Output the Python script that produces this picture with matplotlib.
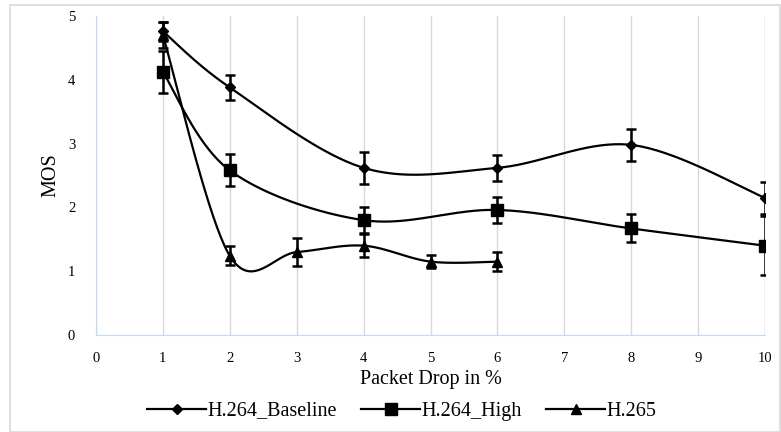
import numpy as np
import matplotlib
matplotlib.use("Agg")
import matplotlib.pyplot as plt
from matplotlib.patches import Rectangle

# data
x_base = [1, 2, 4, 6, 8, 10]
mos_base = [4.76, 3.88, 2.62, 2.62, 2.98, 2.15]
err_base = [0.15, 0.20, 0.25, 0.20, 0.25, 0.25]

x_high = [1, 2, 4, 6, 8, 10]
mos_high = [4.12, 2.58, 1.80, 1.96, 1.67, 1.40]
err_high = [0.33, 0.25, 0.20, 0.20, 0.22, 0.46]

x_265 = [1, 2, 3, 4, 5, 6]
mos_265 = [4.70, 1.24, 1.30, 1.40, 1.15, 1.15]
err_265 = [0.20, 0.15, 0.22, 0.18, 0.10, 0.15]

x_ticks = list(range(0, 11))
y_ticks = [0, 1, 2, 3, 4, 5]


def smooth(xs, ys, n=40):
    # Excel-like smoothed line (Catmull-Rom bezier through the points)
    xs = np.asarray(xs, float)
    ys = np.asarray(ys, float)
    pts = np.column_stack([xs, ys])
    out = []
    for i in range(len(pts) - 1):
        p0 = pts[i - 1] if i > 0 else pts[i]
        p1 = pts[i]
        p2 = pts[i + 1]
        p3 = pts[i + 2] if i + 2 < len(pts) else pts[i + 1]
        c1 = p1 + (p2 - p0) / 6
        c2 = p2 - (p3 - p1) / 6
        t = np.linspace(0, 1, n)[:, None]
        seg = ((1 - t) ** 3) * p1 + 3 * ((1 - t) ** 2) * t * c1 + 3 * (1 - t) * t ** 2 * c2 + t ** 3 * p2
        out.append(seg)
    out = np.vstack(out)
    return out[:, 0], out[:, 1]


plt.rcParams['font.family'] = ['Liberation Serif', 'DejaVu Serif']

fig = plt.figure(figsize=(7.81, 4.32), dpi=100)
fig.patches.append(Rectangle((10 / 781, 0), 1 - 10 / 781 - 0.001, 1 - 5 / 432,
                             transform=fig.transFigure, fill=False,
                             edgecolor="#d9d9d9", linewidth=1.2))
ax = fig.add_axes([96 / 781, 97 / 432, 669 / 781, 319 / 432])

series = [
    (x_base, mos_base, err_base, "D", 5, "H.264_Baseline"),
    (x_high, mos_high, err_high, "s", 8, "H.264_High"),
    (x_265, mos_265, err_265, "^", 7, "H.265"),
]
for xs, ys, es, mk, ms, lab in series:
    sx, sy = smooth(xs, ys)
    ax.plot(sx, sy, color="black", linewidth=1.6, zorder=3)
    ax.errorbar(xs, ys, yerr=es, fmt="none", ecolor="black", elinewidth=1.8,
                capsize=3.5, capthick=1.8, zorder=4)
    ax.plot(xs, ys, linestyle="none", marker=mk, markersize=ms, color="black", zorder=5)
    ax.plot([], [], color="black", linewidth=1.6, marker=mk, markersize=ms, label=lab)

ax.set_xlim(0, 10)
ax.set_ylim(0, 5)
ax.set_xticks(x_ticks)
ax.set_yticks(y_ticks)
ax.grid(axis="x", color="#d9d9d9", linewidth=1)
ax.set_axisbelow(True)
for s in ["top", "right"]:
    ax.spines[s].set_visible(False)
ax.spines["left"].set_color("#c5d9f1")
ax.spines["bottom"].set_color("#c5d9f1")
ax.axvline(10, color="#c5d9f1", linewidth=1, zorder=1)
ax.tick_params(length=0, labelsize=10.5, pad=12)
ax.tick_params(axis="y", pad=15)

ax.set_xlabel("Packet Drop in %", fontsize=14.5, labelpad=4)
ax.set_ylabel("MOS", fontsize=14.5, labelpad=5)

fig.legend(loc="center", bbox_to_anchor=(402 / 781, 21 / 432), ncol=3, frameon=False,
           fontsize=14.5, handlelength=2.9, columnspacing=1.2, handletextpad=0.1)

fig.savefig("out.png", dpi=100)
plt.close(fig)
